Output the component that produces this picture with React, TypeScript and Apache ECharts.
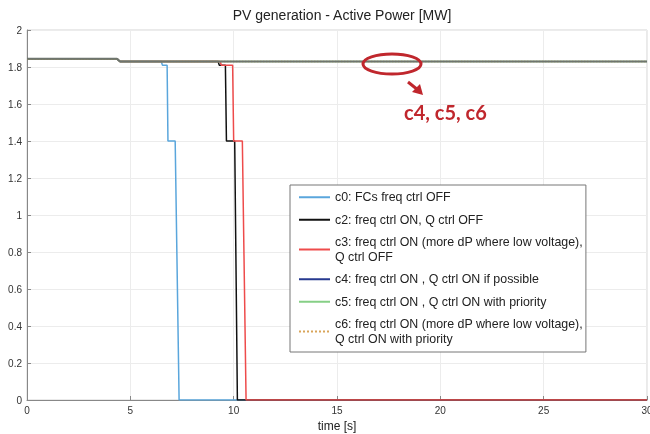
import React, { useEffect, useRef } from "react";
import * as echarts from "echarts";

const seriesNames = ["c0", "c2", "c3", "c4", "c5", "c6"];
const legendLabels: Record<string, string> = {
  c0: "c0: FCs freq ctrl OFF",
  c2: "c2: freq ctrl ON, Q ctrl OFF",
  c3: "c3: freq ctrl ON (more dP where low voltage),\nQ ctrl OFF",
  c4: "c4: freq ctrl ON , Q ctrl ON if possible",
  c5: "c5: freq ctrl ON , Q ctrl ON with priority",
  c6: "c6: freq ctrl ON (more dP where low voltage),\nQ ctrl ON with priority",
};

// [time s, active power MW]
const c0: number[][] = [
  [0, 1.845], [4.35, 1.845], [4.5, 1.83], [6.5, 1.83], [6.55, 1.81],
  [6.78, 1.81], [6.82, 1.4], [7.17, 1.4], [7.36, 0], [30, 0],
];
const c2: number[][] = [
  [0, 1.845], [4.35, 1.845], [4.5, 1.83], [9.25, 1.83], [9.3, 1.81],
  [9.6, 1.81], [9.65, 1.4], [10.05, 1.4], [10.18, 0], [30, 0],
];
const c3: number[][] = [
  [0, 1.845], [4.35, 1.845], [4.5, 1.83], [9.35, 1.83], [9.4, 1.81],
  [9.95, 1.81], [10.0, 1.4], [10.42, 1.4], [10.6, 0], [30, 0],
];
const c4: number[][] = [[0, 1.845], [4.35, 1.845], [4.5, 1.83], [30, 1.83]];
const c5: number[][] = [[0, 1.845], [4.35, 1.845], [4.5, 1.83], [30, 1.83]];
const c6: number[][] = [[0, 1.845], [4.35, 1.845], [4.5, 1.83], [30, 1.83]];

const colors: Record<string, string> = {
  c0: "#5aa6dc",
  c2: "#111111",
  c3: "#ee4b4b",
  c4: "#26398f",
  c5: "#86cf86",
  c6: "#d9a55a",
};

export default function App() {
  const ref = useRef<HTMLDivElement>(null);
  useEffect(() => {
    if (!ref.current) return;
    const chart = echarts.init(ref.current, undefined, { renderer: "svg" });
    const mkLine = (name: string, data: number[][], extra: any = {}) => ({
      name,
      type: "line",
      data,
      symbol: "none",
      lineStyle: { color: colors[name], width: 1.5, ...(extra.lineStyle || {}) },
      itemStyle: { color: colors[name] },
      z: extra.z ?? 2,
    });
    chart.setOption({
      animation: false,
      textStyle: { fontFamily: "Liberation Sans, Arial, sans-serif" },
      title: {
        text: "PV generation - Active Power [MW]",
        left: 337,
        top: 3,
        textAlign: "center",
        textStyle: { fontSize: 14, fontWeight: "normal", color: "#222" },
      },
      grid: {
        left: 27,
        right: 3,
        top: 30,
        bottom: 34,
        show: true,
        borderColor: "#d4d4d4",
        borderWidth: 1,
        containLabel: false,
        outerBoundsMode: "none",
      },
      xAxis: {
        type: "value",
        min: 0,
        max: 30,
        interval: 5,
        name: "time [s]",
        nameLocation: "middle",
        nameGap: 20,
        nameTextStyle: { fontSize: 12, color: "#222" },
        axisLine: { show: true, lineStyle: { color: "#888" } },
        axisTick: { show: true, inside: true, length: 4, lineStyle: { color: "#888" } },
        axisLabel: { fontSize: 10, color: "#333", margin: 5 },
        splitLine: { show: true, lineStyle: { color: "#ececec" } },
      },
      yAxis: {
        type: "value",
        min: 0,
        max: 2,
        interval: 0.2,
        axisLine: { show: true, lineStyle: { color: "#888" } },
        axisTick: { show: true, inside: true, length: 4, lineStyle: { color: "#888" } },
        axisLabel: { fontSize: 10, color: "#333", margin: 5 },
        splitLine: { show: true, lineStyle: { color: "#ececec" } },
      },
      legend: {
        orient: "vertical",
        left: 290,
        top: 185,
        padding: [5, 3, 6, 8],
        itemWidth: 31,
        itemHeight: 14,
        itemGap: 8,
        borderColor: "#777",
        borderWidth: 1,
        borderRadius: 0,
        backgroundColor: "#fff",
        data: seriesNames.map((n) => ({
          name: n,
          lineStyle: { color: colors[n] },
          itemStyle: { color: "rgba(0,0,0,0)", borderWidth: 0, opacity: 0 },
        })),
        formatter: (n: string) => legendLabels[n],
        textStyle: { fontSize: 12.4, color: "#222", lineHeight: 14.5 },
        selectedMode: false,
        z: 10,
      },
      series: [
        mkLine("c0", c0, { z: 2 }),
        mkLine("c2", c2, { z: 3 }),
        mkLine("c3", c3, { z: 4 }),
        mkLine("c5", c5, { z: 5 }),
        mkLine("c6", c6, { z: 6, lineStyle: { type: "dotted", width: 1.5 } }),
        mkLine("c4", c4, { z: 7, lineStyle: { color: "#6e756e", width: 2 } }),
      ],
      graphic: [
        {
          type: "ellipse",
          shape: { cx: 392, cy: 64, rx: 29, ry: 10 },
          style: { fill: "none", stroke: "#c0272d", lineWidth: 3 },
          z: 20,
        },
        {
          type: "polyline",
          shape: { points: [[408, 82], [418, 90]] },
          style: { stroke: "#c0272d", lineWidth: 3 },
          z: 20,
        },
        {
          type: "polygon",
          shape: { points: [[423, 95], [420, 84], [412, 92]] },
          style: { fill: "#c0272d" },
          z: 20,
        },
        {
          type: "text",
          x: 404,
          y: 112,
          style: {
            text: "c4, c5, c6",
            fill: "#c0272d",
            font: "bold 20px Lato, sans-serif",
            textVerticalAlign: "middle",
          },
          z: 20,
        },
      ],
    });
    return () => chart.dispose();
  }, []);
  return <div ref={ref} style={{ width: 650, height: 434, position: "fixed", left: 0, top: 0 }} />;
}
